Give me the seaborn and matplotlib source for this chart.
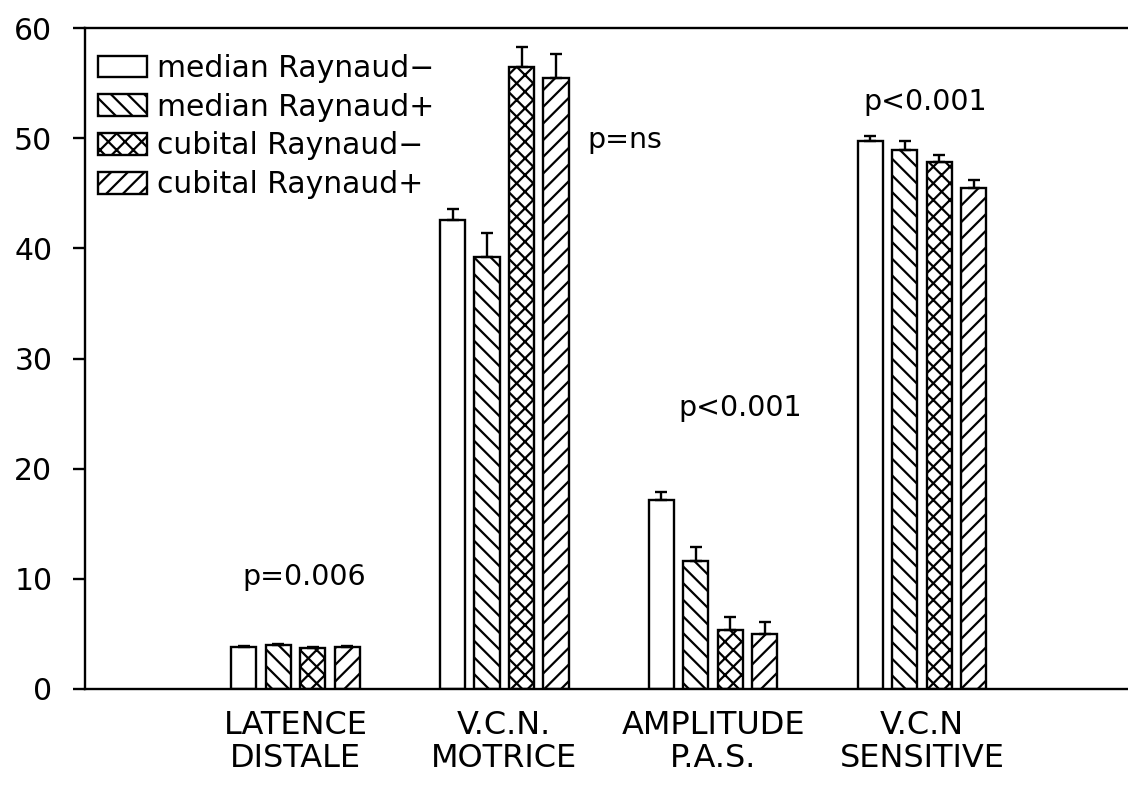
import numpy as np
import pandas as pd
import matplotlib
matplotlib.use("Agg")
import matplotlib.pyplot as plt
import seaborn as sns

# ── values ────────────────────────────────────────────────────────────────────
tests = ["LATENCE\nDISTALE", "V.C.N.\nMOTRICE", "AMPLITUDE\nP.A.S.", "V.C.N\nSENSITIVE"]
groups = ["median Raynaud\u2212", "median Raynaud+", "cubital Raynaud\u2212", "cubital Raynaud+"]

median_neg  = [3.8, 42.6, 17.2, 49.7]
median_pos  = [4.0, 39.2, 11.6, 48.9]
cubital_neg = [3.7, 56.5, 5.4, 47.8]
cubital_pos = [3.8, 55.5, 5.0, 45.5]

median_neg_err  = [0.1, 1.0, 0.7, 0.5]
median_pos_err  = [0.1, 2.2, 1.3, 0.8]
cubital_neg_err = [0.1, 1.8, 1.1, 0.7]
cubital_pos_err = [0.1, 2.1, 1.1, 0.7]

p_values = ["p=0.006", "p=ns", "p<0.001", "p<0.001"]

yticks = [0, 10, 20, 30, 40, 50, 60]

# ── long-form table for seaborn ───────────────────────────────────────────────
series = [median_neg, median_pos, cubital_neg, cubital_pos]
errors = [median_neg_err, median_pos_err, cubital_neg_err, cubital_pos_err]
df = pd.DataFrame({
    "test":  [t for _ in groups for t in tests],
    "group": [g for g in groups for _ in tests],
    "value": [v for s in series for v in s],
})

sns.set_style("ticks")
plt.rcParams["font.family"] = ["DejaVu Sans"]
plt.rcParams["text.color"] = "black"
plt.rcParams["hatch.linewidth"] = 1.6
plt.rcParams["hatch.color"] = "black"

fig = plt.figure(figsize=(11.28, 7.95), dpi=100)
ax = fig.add_axes([85 / 1128, 1 - 689 / 795, 1 - 85 / 1128, (689 - 28) / 795])

sns.barplot(
    data=df, x="test", y="value", hue="group",
    order=tests, hue_order=groups,
    palette=["white"] * 4, edgecolor="black", linewidth=1.7,
    width=0.66, gap=0.27, errorbar=None, legend=False, ax=ax,
)

# hatches + one-sided error bars
hatches = ["", "\\\\", "xx", "//"]
for cont, hatch, err in zip(ax.containers, hatches, errors):
    xs, hs = [], []
    for bar in cont.patches:
        bar.set_hatch(hatch)
        bar.set_facecolor("white")
        bar.set_edgecolor("black")
        xs.append(bar.get_x() + bar.get_width() / 2)
        hs.append(bar.get_height())
    ax.errorbar(xs, hs, yerr=[np.zeros(len(err)), err], fmt="none",
                ecolor="black", elinewidth=1.7, capsize=4, capthick=1.7, zorder=3)

# significance annotations (placement per group)
p_pos = [(0.04, 9.4, "center"), (1.40, 49.1, "left"),
         (2.13, 24.8, "center"), (3.015, 52.6, "center")]
for text, (x, y, ha) in zip(p_values, p_pos):
    ax.text(x, y, text, ha=ha, va="baseline", fontsize=20.5)

ax.legend(ax.containers, groups, loc="upper left", bbox_to_anchor=(0.0125, 0.961),
          frameon=False, fontsize=21.5, handlelength=1.64, handleheight=0.74,
          handletextpad=0.33, labelspacing=0.33, borderpad=0, borderaxespad=0)

ax.set_xlim(-1.008, 3.987)
ax.set_ylim(0, 60)
ax.set_yticks(yticks)
ax.set_xlabel("")
ax.set_ylabel("")

for side in ["left", "bottom", "top"]:
    ax.spines[side].set_visible(True)
    ax.spines[side].set_linewidth(1.7)
    ax.spines[side].set_color("black")
ax.spines["right"].set_visible(False)

ax.tick_params(axis="y", direction="out", length=8.5, width=1.7, pad=15,
               labelsize=21.5, colors="black")
ax.tick_params(axis="x", length=0, pad=15, labelsize=23, colors="black")
for lbl in ax.get_xticklabels():
    lbl.set_linespacing(1.1)

plt.savefig("out.png", dpi=100)
plt.close()
